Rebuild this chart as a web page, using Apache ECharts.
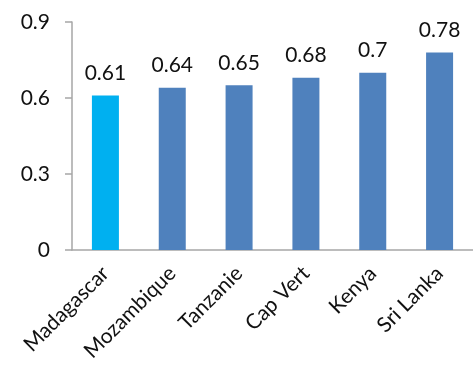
<!DOCTYPE html>
<html>
<head>
<meta charset="utf-8">
<script src="https://cdn.jsdelivr.net/npm/echarts@6/dist/echarts.min.js"></script>
<style>
  html, body { margin: 0; padding: 0; background: #fff; }
  #chart { width: 473px; height: 369px; }
</style>
</head>
<body>
<div id="chart"></div>
<script>
  const countries = ["Madagascar", "Mozambique", "Tanzanie", "Cap Vert", "Kenya", "Sri Lanka"];
  const scores = [0.61, 0.64, 0.65, 0.68, 0.7, 0.78];
  const yTicks = [0, 0.3, 0.6, 0.9];

  const highlightColor = "#00B0F0";
  const barColor = "#4F81BD";
  const axisColor = "#A6A6A6";
  const textColor = "#111111";
  const font = "Lato, 'Open Sans', sans-serif";

  const myChart = echarts.init(document.getElementById("chart"));
  const option = {
    animation: false,
    grid: { left: 72, top: 22, width: 408, bottom: 119 },
    xAxis: {
      type: "category",
      data: countries,
      axisLine: { lineStyle: { color: axisColor, width: 1.5 } },
      axisTick: { length: 6, lineStyle: { color: axisColor, width: 1.5 } },
      axisLabel: {
        rotate: 45,
        interval: 0,
        margin: 20,
        color: textColor,
        fontSize: 21,
        fontFamily: font
      }
    },
    yAxis: {
      type: "value",
      min: yTicks[0],
      max: yTicks[yTicks.length - 1],
      interval: 0.3,
      splitLine: { show: false },
      axisLine: { show: true, lineStyle: { color: axisColor, width: 1.5 } },
      axisTick: { show: true, length: 7, lineStyle: { color: axisColor, width: 1.5 } },
      axisLabel: {
        margin: 22,
        color: textColor,
        fontSize: 21,
        fontFamily: font
      }
    },
    series: [{
      type: "bar",
      barWidth: 27,
      data: scores.map((v, i) => ({
        value: v,
        itemStyle: { color: i === 0 ? highlightColor : barColor }
      })),
      label: {
        show: true,
        position: "top",
        distance: 12,
        color: textColor,
        fontSize: 21,
        fontFamily: font
      }
    }]
  };
  myChart.setOption(option);
</script>
</body>
</html>
